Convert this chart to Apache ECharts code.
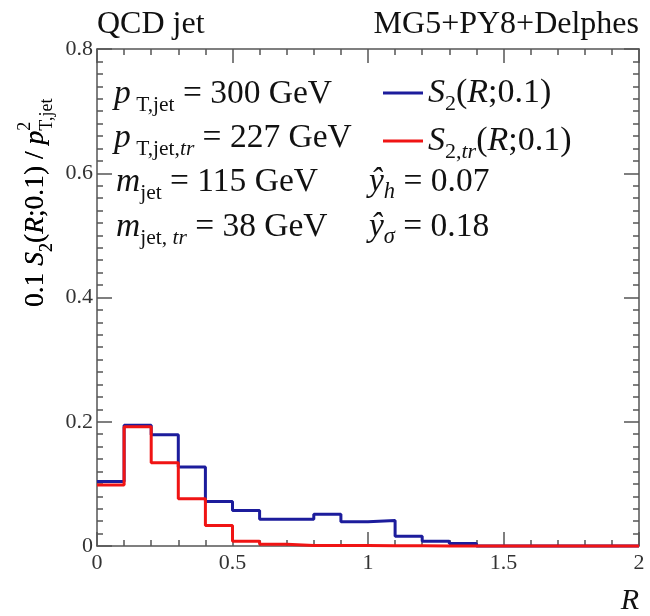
<!DOCTYPE html>
<html>
<head>
<meta charset="utf-8">
<script src="https://cdn.jsdelivr.net/npm/echarts@6/dist/echarts.min.js"></script>
<style>html,body{margin:0;padding:0;background:#fff;}#c{width:650px;height:616px;}</style>
</head>
<body>
<div id="c"></div>
<script>
// ---- data ----
const R_EDGES = [0, 0.1, 0.2, 0.3, 0.4, 0.5, 0.6, 0.7, 0.8, 0.9, 1.0, 1.1, 1.2, 1.3, 1.4, 1.5, 1.6, 1.7, 1.8, 1.9, 2.0];
const S2_VALUES = [0.104, 0.1945, 0.179, 0.127, 0.0716, 0.057, 0.043, 0.043, 0.051, 0.039, 0.041, 0.0155, 0.0075, 0.004, 0, 0, 0, 0, 0, 0];
const S2TR_VALUES = [0.098, 0.192, 0.134, 0.076, 0.033, 0.0075, 0.003, 0.001, 0.001, 0.0008, 0.0005, 0.0005, 0, 0, 0, 0, 0, 0, 0, 0];
const X_TICKS = [0, 0.5, 1, 1.5, 2];
const Y_TICKS = [0, 0.2, 0.4, 0.6, 0.8];
const SERIES_NAMES = ['S2', 'S2tr'];

const FONT = 'Liberation Serif';

function toSteps(vals) {
  const pts = vals.map((v, i) => [R_EDGES[i], v]);
  pts.push([R_EDGES[vals.length], vals[vals.length - 1]]);
  return pts;
}

const chart = echarts.init(document.getElementById('c'), null, {renderer: 'canvas'});

function makeRich(fs, sfs) {
  return {
    n: {fontFamily: FONT, fontSize: fs, color: '#111', lineHeight: 44},
    i: {fontFamily: FONT, fontSize: fs, fontStyle: 'italic', color: '#111', lineHeight: 44},
    sub: {fontFamily: FONT, fontSize: sfs, color: '#111', verticalAlign: 'bottom', lineHeight: 22},
    subi: {fontFamily: FONT, fontSize: sfs, fontStyle: 'italic', color: '#111', verticalAlign: 'bottom', lineHeight: 22},
    subl: {fontFamily: FONT, fontSize: sfs + 1, fontStyle: 'italic', color: '#111', verticalAlign: 'bottom', lineHeight: 10}
  };
}
const rich = makeRich(33.5, 21.5);
const legRich = makeRich(34, 22);

// y-axis title rich
const YF = 27.5, YS = 18;
const yRich = {
  n: {fontFamily: FONT, fontSize: YF, color: '#111', lineHeight: 40},
  i: {fontFamily: FONT, fontSize: YF, fontStyle: 'italic', color: '#111', lineHeight: 40},
  sub: {fontFamily: FONT, fontSize: YS, color: '#111', verticalAlign: 'bottom', lineHeight: 22},
  subi: {fontFamily: FONT, fontSize: YS, fontStyle: 'italic', color: '#111', verticalAlign: 'bottom', lineHeight: 22},
  sup: {fontFamily: FONT, fontSize: YS, color: '#111', verticalAlign: 'top', lineHeight: 16},
  tn: {fontFamily: FONT, fontSize: YF, color: 'rgba(0,0,0,0)', lineHeight: 40},
  ti: {fontFamily: FONT, fontSize: YF, fontStyle: 'italic', color: 'rgba(0,0,0,0)', lineHeight: 40},
  tsub: {fontFamily: FONT, fontSize: YS, color: 'rgba(0,0,0,0)', verticalAlign: 'bottom', lineHeight: 22}
};

const yTitle = '{n|0.1 }{i|S}{sub|2}{n|(}{i|R}{n|;0.1) / }{i|p}{sub|T,jet}';
const yTitleSup = '{tn|0.1 }{ti|S}{tsub|2}{tn|(}{ti|R}{tn|;0.1) / }{ti|p}{sup|2}';

function txt(x, y, text, r) {
  return {
    type: 'text', x: x, y: y, z: 100,
    style: {text: text, rich: r || rich, align: 'left', verticalAlign: 'middle', fill: '#111', font: '33px ' + FONT}
  };
}

const option = {
  animation: false,
  backgroundColor: '#fff',
  grid: {left: 97, right: 11, top: 49, bottom: 66, containLabel: false},
  legend: {
    orient: 'vertical',
    left: 378, top: 71,
    itemGap: 9,
    itemWidth: 40, itemHeight: 3,
    icon: 'rect',
    data: SERIES_NAMES,
    formatter: function (name) {
      return name === 'S2'
        ? '{i|S}{sub|2}{n|(}{i|R}{n|;0.1)}'
        : '{i|S}{sub|2,}{subi|tr}{n|(}{i|R}{n|;0.1)}';
    },
    textStyle: {fontFamily: FONT, fontSize: 34, rich: legRich, padding: [0, 0, 0, 0]}
  },
  xAxis: [{
    type: 'value', min: X_TICKS[0], max: X_TICKS[X_TICKS.length - 1], interval: 0.5,
    position: 'bottom',
    axisLine: {show: true, onZero: false, lineStyle: {color: '#555', width: 1.5}},
    axisTick: {show: true, inside: true, length: 14, lineStyle: {color: '#555', width: 1.5}},
    minorTick: {show: true, splitNumber: 5, length: 6, lineStyle: {color: '#555', width: 1.5}},
    splitLine: {show: false},
    axisLabel: {show: true, margin: 6, fontFamily: FONT, fontSize: 22, color: '#333'},
    name: 'R', nameLocation: 'end', nameGap: 0,
    nameTextStyle: {fontFamily: FONT, fontStyle: 'italic', fontSize: 30, color: '#111', align: 'right', verticalAlign: 'top', padding: [40, 0, 0, 0]}
  }, {
    type: 'value', min: X_TICKS[0], max: X_TICKS[X_TICKS.length - 1], interval: 0.5,
    position: 'top',
    axisLine: {show: true, onZero: false, lineStyle: {color: '#555', width: 1.5}},
    axisTick: {show: true, inside: true, length: 14, lineStyle: {color: '#555', width: 1.5}},
    minorTick: {show: true, splitNumber: 5, length: 6, lineStyle: {color: '#555', width: 1.5}},
    splitLine: {show: false},
    axisLabel: {show: false}
  }],
  yAxis: [{
    type: 'value', min: Y_TICKS[0], max: Y_TICKS[Y_TICKS.length - 1], interval: 0.2,
    position: 'left',
    axisLine: {show: true, onZero: false, lineStyle: {color: '#555', width: 1.5}},
    axisTick: {show: true, inside: true, length: 15, lineStyle: {color: '#555', width: 1.5}},
    minorTick: {show: true, splitNumber: 10, length: 6, lineStyle: {color: '#555', width: 1.5}},
    splitLine: {show: false},
    axisLabel: {show: true, margin: 4, fontFamily: FONT, fontSize: 22, color: '#333',
      formatter: v => String(Math.round(v * 10) / 10)}
  }, {
    type: 'value', min: Y_TICKS[0], max: Y_TICKS[Y_TICKS.length - 1], interval: 0.2,
    position: 'right',
    axisLine: {show: true, onZero: false, lineStyle: {color: '#555', width: 1.5}},
    axisTick: {show: true, inside: true, length: 15, lineStyle: {color: '#555', width: 1.5}},
    minorTick: {show: true, splitNumber: 10, length: 6, lineStyle: {color: '#555', width: 1.5}},
    splitLine: {show: false},
    axisLabel: {show: false}
  }],
  series: [{
    name: 'S2', type: 'line', step: 'end', symbol: 'none', clip: false,
    xAxisIndex: 0, yAxisIndex: 0, z: 3,
    data: toSteps(S2_VALUES),
    itemStyle: {color: '#1c1c9c'},
    lineStyle: {color: '#1c1c9c', width: 3}
  }, {
    name: 'S2tr', type: 'line', step: 'end', symbol: 'none', clip: false,
    xAxisIndex: 0, yAxisIndex: 0, z: 4,
    data: toSteps(S2TR_VALUES),
    itemStyle: {color: '#f01414'},
    lineStyle: {color: '#f01414', width: 3}
  }],
  graphic: [
    {type: 'text', x: 97, y: 25, z: 100, style: {text: 'QCD jet', font: '32px ' + FONT, fill: '#111', align: 'left', verticalAlign: 'middle'}},
    {type: 'text', x: 639, y: 25, z: 100, style: {text: 'MG5+PY8+Delphes', font: '32px ' + FONT, fill: '#111', align: 'right', verticalAlign: 'middle'}},
    txt(114, 94, '{i|p}{sub| T,jet}{n| = 300 GeV}'),
    txt(114, 138, '{i|p}{sub| T,jet,}{subi|tr}{n| = 227 GeV}'),
    txt(116, 182, '{i|m}{sub|jet}{n| = 115 GeV}'),
    txt(116, 227, '{i|m}{sub|jet, }{subi|tr}{n| = 38 GeV}'),
    txt(369, 182, '{i|ŷ}{subl|h}{n| = 0.07}'),
    txt(369, 227, '{i|ŷ}{subl|σ}{n| = 0.18}'),
    {type: 'text', x: 36, y: 307, rotation: Math.PI / 2, z: 100,
      style: {text: yTitle, rich: yRich, align: 'left', verticalAlign: 'middle', font: YF + 'px ' + FONT}},
    {type: 'text', x: 36, y: 307, rotation: Math.PI / 2, z: 101,
      style: {text: yTitleSup, rich: yRich, align: 'left', verticalAlign: 'middle', font: YF + 'px ' + FONT}}
  ]
};

chart.setOption(option);
</script>
</body>
</html>
